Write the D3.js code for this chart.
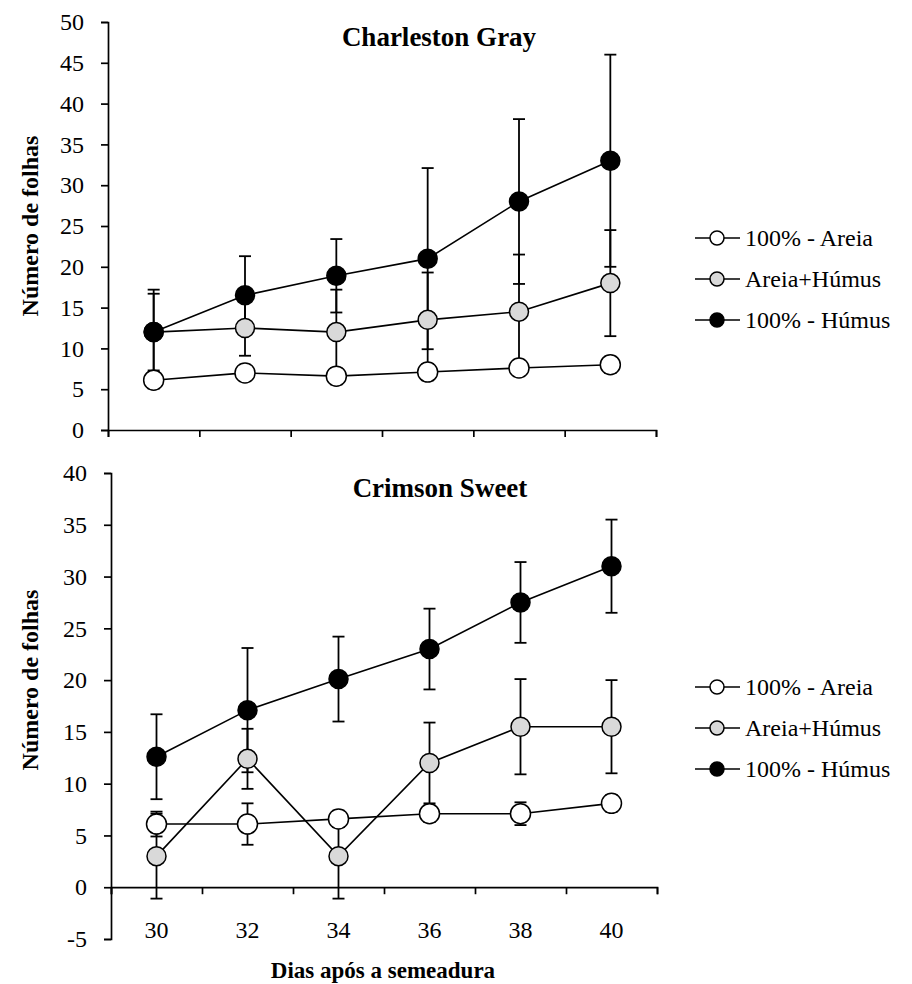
<!DOCTYPE html>
<html>
<head>
<meta charset="utf-8">
<script src="https://cdn.jsdelivr.net/npm/d3@7"></script>
<style>
  body { margin: 0; background: #fff; }
</style>
</head>
<body>
<div id="chart"></div>
<script>
const WIDTH = 912;
const HEIGHT = 984;
const FONT = "'Liberation Serif', 'Times New Roman', serif";

//Data
var DAYS = [30, 32, 34, 36, 38, 40];
var SERIES = ["100% - Areia", "Areia+Húmus", "100% - Húmus"];

//Charleston Gray
var CG_AREIA = [6.1, 7.0, 6.6, 7.1, 7.6, 8.0];
var CG_AREIA_ERR = [1.0, 1.0, 1.0, 1.0, 1.0, 1.0];
var CG_MISTO = [12.0, 12.5, 12.0, 13.5, 14.5, 18.0];
var CG_MISTO_ERR = [4.7, 3.4, 5.2, 5.8, 7.0, 6.5];
var CG_HUMUS = [12.0, 16.5, 18.9, 21.0, 28.0, 33.0];
var CG_HUMUS_ERR = [5.2, 4.8, 4.5, 11.1, 10.1, 13.0];
var CG_YTICKS = [0, 5, 10, 15, 20, 25, 30, 35, 40, 45, 50];

//Crimson Sweet
var CS_AREIA = [6.1, 6.1, 6.6, 7.1, 7.1, 8.1];
var CS_AREIA_ERR = [1.2, 2.0, 0.8, 0.8, 1.1, 0.8];
var CS_MISTO = [3.0, 12.4, 3.0, 12.0, 15.5, 15.5];
var CS_MISTO_ERR = [4.1, 2.9, 4.1, 3.9, 4.6, 4.5];
var CS_HUMUS = [12.6, 17.1, 20.1, 23.0, 27.5, 31.0];
var CS_HUMUS_ERR = [4.1, 6.0, 4.1, 3.9, 3.9, 4.5];
var CS_YTICKS = [-5, 0, 5, 10, 15, 20, 25, 30, 35, 40];

var XTICKS = [29, 31, 33, 35, 37, 39, 41];
var FILLS = ["#ffffff", "#d9d9d9", "#000000"];

var svg = d3
  .select("#chart")
  .append("svg")
  .attr("width", WIDTH)
  .attr("height", HEIGHT)
  .style("font-family", FONT);

function drawPanel(p) {
  var xScale = d3.scaleLinear().domain([29, 41]).range([p.left, p.right]);
  var yScale = d3.scaleLinear().domain(p.yDomain).range([p.bottom, p.top]);
  var g = svg.append("g");

  //Y axis
  var yAxis = d3.axisLeft(yScale)
    .tickValues(p.yTicks)
    .tickSize(7)
    .tickPadding(17)
    .tickFormat((d) => String(d));
  var ya = g.append("g")
    .attr("transform", "translate(" + p.left + ",0)")
    .call(yAxis);
  ya.select(".domain").attr("stroke-width", 1.7);
  ya.selectAll(".tick line").attr("stroke-width", 1.7);
  ya.selectAll("text")
    .attr("font-size", 24)
    .attr("fill", "#000")
    .style("font-family", FONT);

  //X axis at y = 0
  var xAxis = d3.axisBottom(xScale).tickValues(XTICKS).tickSize(7).tickFormat("");
  var xa = g.append("g")
    .attr("transform", "translate(0," + yScale(0) + ")")
    .call(xAxis);
  xa.select(".domain").attr("stroke-width", 1.7);
  xa.selectAll(".tick line").attr("stroke-width", 1.7);

  //X tick labels at the bottom of the plot
  if (p.xLabels) {
    g.selectAll(".xlab")
      .data(DAYS)
      .enter()
      .append("text")
      .attr("x", (d) => xScale(d))
      .attr("y", p.bottom - 1)
      .attr("text-anchor", "middle")
      .attr("font-size", 24)
      .text((d) => d);
  }

  //Title
  g.append("text")
    .attr("x", p.titleX)
    .attr("y", p.titleY)
    .attr("text-anchor", "middle")
    .attr("font-size", 27)
    .attr("font-weight", "bold")
    .text(p.title);

  //Y label
  g.append("text")
    .attr("transform", "translate(38," + p.labelY + ") rotate(-90)")
    .attr("text-anchor", "middle")
    .attr("font-size", 24)
    .attr("font-weight", "bold")
    .text("Número de folhas");

  var series = p.series.map((vals, i) =>
    DAYS.map((d, j) => ({ x: d, y: vals[j], e: p.errors[i][j] }))
  );

  //Error bars
  series.forEach(function (s) {
    var eb = g.append("g").attr("stroke", "#000").attr("stroke-width", 1.8);
    eb.selectAll("line.v")
      .data(s)
      .enter()
      .append("line")
      .attr("x1", (d) => xScale(d.x))
      .attr("x2", (d) => xScale(d.x))
      .attr("y1", (d) => yScale(d.y + d.e))
      .attr("y2", (d) => yScale(d.y - d.e));
    [1, -1].forEach(function (sign) {
      eb.selectAll("line.c" + sign)
        .data(s)
        .enter()
        .append("line")
        .attr("x1", (d) => xScale(d.x) - 6)
        .attr("x2", (d) => xScale(d.x) + 6)
        .attr("y1", (d) => yScale(d.y + sign * d.e))
        .attr("y2", (d) => yScale(d.y + sign * d.e));
    });
  });

  //Lines and markers
  var line = d3.line().x((d) => xScale(d.x)).y((d) => yScale(d.y));
  series.forEach(function (s) {
    g.append("path")
      .datum(s)
      .attr("d", line)
      .attr("fill", "none")
      .attr("stroke", "#000")
      .attr("stroke-width", 1.6);
  });
  series.forEach(function (s, i) {
    g.selectAll("circle.s" + i)
      .data(s)
      .enter()
      .append("circle")
      .attr("cx", (d) => xScale(d.x))
      .attr("cy", (d) => yScale(d.y))
      .attr("r", i == 0 ? 10 : 9.5)
      .attr("fill", FILLS[i])
      .attr("stroke", "#000")
      .attr("stroke-width", 1.5);
  });

  //Legend
  var lg = g.append("g").attr("transform", "translate(695," + p.legendY + ")");
  SERIES.forEach(function (name, i) {
    var row = lg.append("g").attr("transform", "translate(0," + i * 41 + ")");
    row.append("line")
      .attr("x1", 0).attr("x2", 45)
      .attr("stroke", "#000").attr("stroke-width", 1.7);
    row.append("circle")
      .attr("cx", 22).attr("r", 7)
      .attr("fill", FILLS[i]).attr("stroke", "#000").attr("stroke-width", 1.5);
    row.append("text")
      .attr("x", 50).attr("y", 8)
      .attr("font-size", 24)
      .text(name);
  });
}

drawPanel({
  left: 108, right: 656, top: 22, bottom: 430,
  yDomain: [0, 50], yTicks: CG_YTICKS,
  series: [CG_AREIA, CG_MISTO, CG_HUMUS],
  errors: [CG_AREIA_ERR, CG_MISTO_ERR, CG_HUMUS_ERR],
  title: "Charleston Gray", titleX: 439, titleY: 46,
  labelY: 226, legendY: 238, xLabels: false
});

drawPanel({
  left: 111, right: 657, top: 473, bottom: 939,
  yDomain: [-5, 40], yTicks: CS_YTICKS,
  series: [CS_AREIA, CS_MISTO, CS_HUMUS],
  errors: [CS_AREIA_ERR, CS_MISTO_ERR, CS_HUMUS_ERR],
  title: "Crimson Sweet", titleX: 440, titleY: 497,
  labelY: 680, legendY: 687, xLabels: true
});

//X axis title
svg.append("text")
  .attr("x", 383)
  .attr("y", 978)
  .attr("text-anchor", "middle")
  .attr("font-size", 23)
  .attr("font-weight", "bold")
  .text("Dias após a semeadura");
</script>
</body>
</html>
